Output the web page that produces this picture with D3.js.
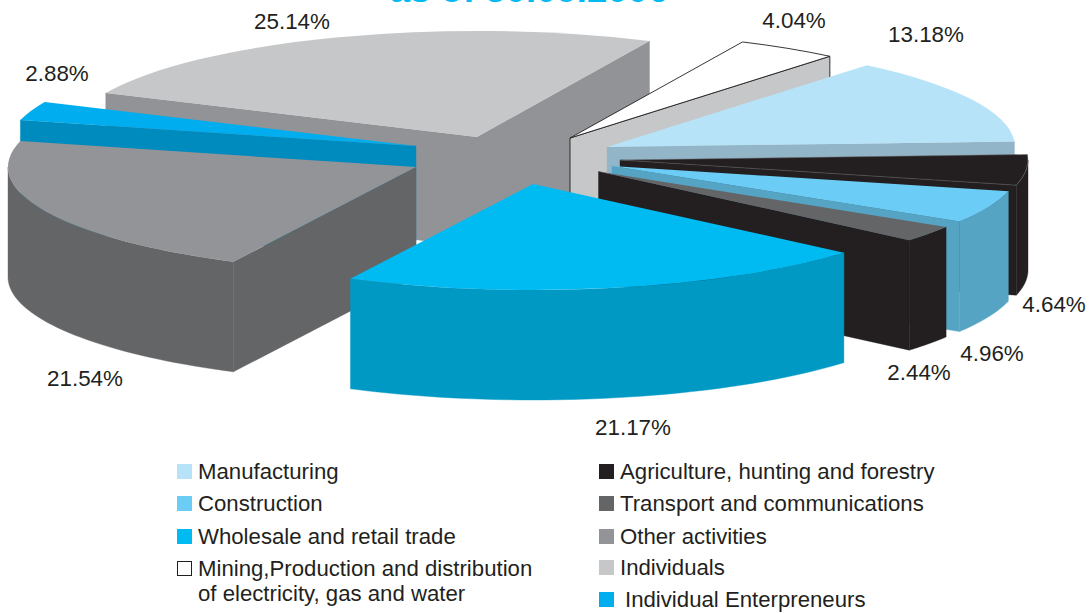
<!DOCTYPE html>
<html><head><meta charset="utf-8">
<script src="https://cdn.jsdelivr.net/npm/d3@7/dist/d3.min.js"></script>
<style>html,body{margin:0;padding:0;background:#fff;overflow:hidden}text{font-family:"Liberation Sans",sans-serif;fill:#231f20}</style>
</head><body><svg id="c" width="1091" height="613"></svg>
<script>
// Data, clockwise from the Individuals slice
const categories = ["Individuals","Mining,Production and distribution of electricity, gas and water","Manufacturing","Agriculture, hunting and forestry","Construction","Transport and communications","Wholesale and retail trade","Other activities","Individual Enterpreneurs"];
const values = [25.14,4.04,13.18,4.64,4.96,2.44,21.17,21.54,2.88];
const valueLabels = ["25.14%","4.04%","13.18%","4.64%","4.96%","2.44%","21.17%","21.54%","2.88%"];
const topColors = ["#c6c7c9","#ffffff","#b7e3f9","#231f20","#6bcdf6","#646567","#00bbf2","#929497","#00aeef"];
const sideColors = ["#929397","#c6c7c9","#92b5c7","#231f20","#55a4c4","#231f20","#0099c4","#646567","#008bbf"];

// Layout
const RX=408, RY=106, DEPTH=110, START=-65.5*Math.PI/180;
const apexX=[477,570,607,620,612,598.5,533,416,416];
const apexY=[137,138,147,160,166,171.5,184,167,146];
const labelX=[292,794,926,1054,992,919,633,85,57];
const labelY=[29,28,42,312,361,380,435,386,81];
const paintOrder=[0,8,7,1,2,3,4,5,6];
const legendRows=[
 {i:2,c:0,y:472},{i:4,c:0,y:504},{i:6,c:0,y:537},{i:1,c:0,y:569,lines:["Mining,Production and distribution","of electricity, gas and water"]},
 {i:3,c:1,y:472},{i:5,c:1,y:504},{i:7,c:1,y:537},{i:0,c:1,y:568},{i:8,c:1,y:600}];

const svg=d3.select("#c");
const pie=d3.pie().sort(null).startAngle(START).endAngle(START+2*Math.PI);
const arcs=pie(values);
const arc=d3.arc().innerRadius(0).outerRadius(RX);
const k=RY/RX;
const px=(i,t)=>apexX[i]+RX*Math.sin(t);
const py=(i,t)=>apexY[i]-RY*Math.cos(t);
const line=d3.line();

paintOrder.forEach(i=>{
  const a=arcs[i], g=svg.append("g").attr("class","slice");
  const stroke=i===1?"#231f20":sideColors[i];
  const sw=i===1?0.9:0.4;
  const face=t=>line([[apexX[i],apexY[i]],[px(i,t),py(i,t)],[px(i,t),py(i,t)+DEPTH],[apexX[i],apexY[i]+DEPTH]])+"Z";
  // start cut face visible when its outward normal looks downward
  if(Math.cos(a.startAngle-Math.PI/2)<0) g.append("path").attr("d",face(a.startAngle)).attr("fill",sideColors[i]).attr("stroke",stroke).attr("stroke-width",sw);
  if(Math.cos(a.endAngle+Math.PI/2)<0) g.append("path").attr("d",face(a.endAngle)).attr("fill",sideColors[i]).attr("stroke",stroke).attr("stroke-width",sw);
  // curved rim
  const lo=Math.max(a.startAngle,Math.PI/2), hi=Math.min(a.endAngle,3*Math.PI/2);
  if(hi>lo){
    const ts=d3.range(0,41).map(j=>lo+(hi-lo)*j/40);
    g.append("path").attr("d",d3.area().x(t=>px(i,t)).y0(t=>py(i,t)).y1(t=>py(i,t)+DEPTH)(ts))
     .attr("fill",sideColors[i]).attr("stroke",sideColors[i]).attr("stroke-width",0.4);
  }
  // top
  g.append("path").attr("d",arc(a))
   .attr("transform",`translate(${apexX[i]},${apexY[i]}) scale(1,${k})`)
   .attr("fill",topColors[i])
   .attr("stroke",i===1?"#231f20":(i===3?"#6a6a6c":"none"))
   .attr("stroke-width",i===1?0.9:0.5)
   .attr("vector-effect","non-scaling-stroke");
});

// value labels
svg.append("g").selectAll("text").data(valueLabels).join("text")
 .attr("x",(d,i)=>labelX[i]).attr("y",(d,i)=>labelY[i]).attr("text-anchor","middle")
 .attr("font-size",22.4).text(d=>d);

// title (cropped by the top edge)
svg.append("text").attr("x",529).attr("y",2).attr("text-anchor","middle")
 .attr("font-size",36.6).attr("font-weight","bold").style("fill","#00bbf2").text("as of 30.09.2006");

// legend
const legendX=[177,599], textX=[198,620];
legendRows.forEach(r=>{
  const g=svg.append("g");
  const enter=r.i===8;
  g.append("rect").attr("x",legendX[r.c]+(r.i===1?0.5:0)).attr("y",r.y-8+(r.i===1?0.5:0))
   .attr("width",r.i===1?14:15).attr("height",r.i===1?14:15)
   .attr("fill",topColors[r.i]).attr("stroke",r.i===1?"#231f20":"none").attr("stroke-width",1);
  (r.lines||[categories[r.i]]).forEach((s,j)=>{
    g.append("text").attr("x",textX[r.c]+(enter?5:0)).attr("y",r.y+7+j*25).attr("font-size",22.2).text(s);
  });
});
</script></body></html>
